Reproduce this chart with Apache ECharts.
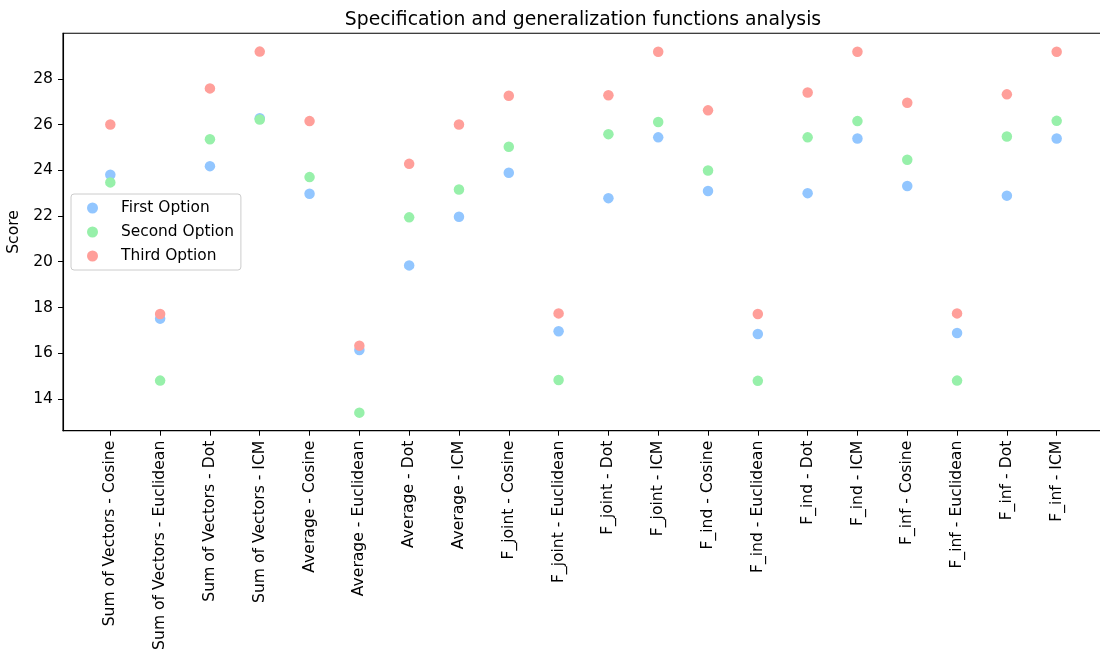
<!DOCTYPE html>
<html>
<head>
<meta charset="utf-8">
<script src="https://cdn.jsdelivr.net/npm/echarts@6/dist/echarts.min.js"></script>
<style>
html,body{margin:0;padding:0;background:#fff;}
#chart{width:1100px;height:657px;}
</style>
</head>
<body>
<div id="chart"></div>
<script>
const categories = [
  "Sum of Vectors - Cosine", "Sum of Vectors - Euclidean", "Sum of Vectors - Dot", "Sum of Vectors - ICM",
  "Average - Cosine", "Average - Euclidean", "Average - Dot", "Average - ICM",
  "F_joint - Cosine", "F_joint - Euclidean", "F_joint - Dot", "F_joint - ICM",
  "F_ind - Cosine", "F_ind - Euclidean", "F_ind - Dot", "F_ind - ICM",
  "F_inf - Cosine", "F_inf - Euclidean", "F_inf - Dot", "F_inf - ICM"
];
const firstOption  = [23.80, 17.51, 24.18, 26.28, 22.97, 16.14, 19.84, 21.97, 23.89, 16.96, 22.78, 25.44, 23.09, 16.84, 23.00, 25.39, 23.31, 16.88, 22.89, 25.39];
const secondOption = [23.47, 14.80, 25.36, 26.22, 23.70, 13.40, 21.94, 23.16, 25.03, 14.83, 25.58, 26.11, 23.99, 14.79, 25.44, 26.15, 24.46, 14.80, 25.48, 26.16];
const thirdOption  = [26.00, 17.71, 27.58, 29.19, 26.15, 16.33, 24.28, 26.00, 27.26, 17.74, 27.28, 29.18, 26.62, 17.71, 27.40, 29.18, 26.95, 17.74, 27.32, 29.18];
const seriesNames = ["First Option", "Second Option", "Third Option"];
const yTicks = [14, 16, 18, 20, 22, 24, 26, 28];

const FONT = "DejaVu Sans";
const colors = ["#92C6FF", "#97F0AA", "#FF9F9A"];
const xIdx = categories.map((_, i) => i);
const toPts = arr => arr.map((v, i) => [i, v]);

const chart = echarts.init(document.getElementById('chart'), null, {renderer: 'canvas'});
chart.setOption({
  animation: false,
  backgroundColor: '#fff',
  color: colors,
  textStyle: {fontFamily: FONT},
  title: {
    text: "Specification and generalization functions analysis",
    left: 578, top: 6, textAlign: 'center',
    textStyle: {fontFamily: FONT, fontSize: 18.8, fontWeight: 'normal', color: '#000'}
  },
  legend: {
    orient: 'vertical',
    left: 71, top: 194,
    padding: [6, 7, 6, 16],
    itemGap: 8,
    itemWidth: 11, itemHeight: 11,
    icon: 'circle',
    backgroundColor: 'rgba(255,255,255,0.8)',
    borderColor: '#cccccc', borderWidth: 1, borderRadius: 3,
    textStyle: {fontFamily: FONT, fontSize: 15.4, color: '#000', lineHeight: 16, padding: [0, 0, 0, 18]},
    data: seriesNames
  },
  grid: {left: 63, top: 33.3, width: 1041, bottom: 226.3, containLabel: false, outerBoundsMode: 'none',
         show: true, borderColor: '#000', borderWidth: 1.1, backgroundColor: 'transparent'},
  xAxis: {
    type: 'value', min: -0.95, max: 19.95,
    axisLine: {show: true, onZero: false, lineStyle: {color: '#000', width: 1.1}},
    axisTick: {show: true, customValues: xIdx, length: 5, lineStyle: {color: '#000', width: 1}},
    axisLabel: {
      customValues: xIdx, rotate: 90, margin: 10,
      formatter: v => categories[Math.round(v)] || '',
      fontFamily: FONT, fontSize: 15.6, color: '#000'
    },
    splitLine: {show: false}
  },
  yAxis: {
    type: 'value', min: 12.61, max: 29.99,
    name: 'Score', nameLocation: 'middle', nameGap: 35, nameRotate: 90,
    nameTextStyle: {fontFamily: FONT, fontSize: 15.6, color: '#000'},
    axisLine: {show: true, onZero: false, lineStyle: {color: '#000', width: 1.1}},
    axisTick: {show: true, customValues: yTicks, length: 5, lineStyle: {color: '#000', width: 1}},
    axisLabel: {customValues: yTicks, margin: 10, fontFamily: FONT, fontSize: 15.6, color: '#000'},
    splitLine: {show: false}
  },
  series: [
    {name: seriesNames[0], type: 'scatter', symbolSize: 10.5, data: toPts(firstOption), itemStyle: {color: colors[0], opacity: 1}},
    {name: seriesNames[1], type: 'scatter', symbolSize: 10.5, data: toPts(secondOption), itemStyle: {color: colors[1], opacity: 1}},
    {name: seriesNames[2], type: 'scatter', symbolSize: 10.5, data: toPts(thirdOption), itemStyle: {color: colors[2], opacity: 1}}
  ]
});
</script>
</body>
</html>
